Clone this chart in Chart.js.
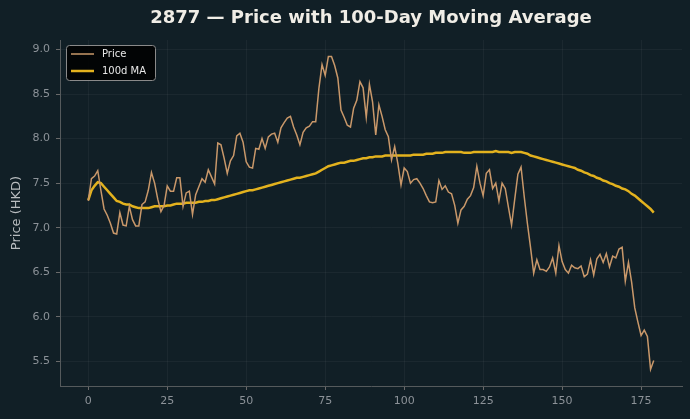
<!DOCTYPE html>
<html>
<head>
<meta charset="utf-8">
<style>
  html, body { margin: 0; padding: 0; background: #111f26; }
  canvas { display: block; }
</style>
</head>
<body>
<canvas id="maChart" width="690" height="419"></canvas>
<script src="https://cdn.jsdelivr.net/npm/chart.js@4.4.1/dist/chart.umd.min.js"></script>
<script>
// closing price, one value per trading day
const price = [
  7.30, 7.55, 7.58, 7.64, 7.42, 7.21, 7.14, 7.05, 6.94, 6.93,
  7.17, 7.03, 7.02, 7.24, 7.09, 7.02, 7.02, 7.26, 7.29, 7.42,
  7.62, 7.50, 7.32, 7.18, 7.25, 7.47, 7.41, 7.41, 7.56, 7.56,
  7.24, 7.39, 7.41, 7.15, 7.37, 7.46, 7.55, 7.51, 7.65, 7.57,
  7.49, 7.95, 7.93, 7.78, 7.61, 7.75, 7.81, 8.03, 8.06, 7.96,
  7.74, 7.68, 7.67, 7.89, 7.88, 8.00, 7.89, 8.02, 8.05, 8.06,
  7.96, 8.12, 8.18, 8.23, 8.25, 8.13, 8.04, 7.93, 8.07, 8.12,
  8.14, 8.19, 8.19, 8.56, 8.83, 8.71, 8.92, 8.92, 8.82, 8.68,
  8.32, 8.24, 8.15, 8.13, 8.34, 8.43, 8.64, 8.57, 8.24, 8.61,
  8.41, 8.04, 8.38, 8.25, 8.10, 8.02, 7.76, 7.91, 7.72, 7.48,
  7.67, 7.63, 7.50, 7.54, 7.55, 7.50, 7.44, 7.36, 7.29, 7.28,
  7.29, 7.53, 7.43, 7.47, 7.40, 7.38, 7.25, 7.05, 7.20, 7.24,
  7.32, 7.36, 7.45, 7.69, 7.50, 7.36, 7.61, 7.65, 7.44, 7.50,
  7.30, 7.50, 7.44, 7.23, 7.03, 7.32, 7.60, 7.68, 7.35, 7.05,
  6.78, 6.49, 6.64, 6.53, 6.53, 6.51, 6.56, 6.66, 6.49, 6.80,
  6.62, 6.53, 6.49, 6.58, 6.55, 6.54, 6.57, 6.45, 6.48, 6.64,
  6.47, 6.65, 6.70, 6.61, 6.71, 6.56, 6.68, 6.66, 6.76, 6.78,
  6.40, 6.61, 6.39, 6.10, 5.94, 5.79, 5.85, 5.78, 5.41, 5.51
];

// 100-day moving average
const ma100 = [
  7.31, 7.42, 7.47, 7.51, 7.50, 7.46, 7.42, 7.38, 7.34, 7.30,
  7.29, 7.27, 7.26, 7.26, 7.24, 7.23, 7.22, 7.22, 7.22, 7.22,
  7.23, 7.24, 7.24, 7.24, 7.24, 7.25, 7.25, 7.26, 7.27, 7.27,
  7.27, 7.28, 7.28, 7.28, 7.28, 7.29, 7.29, 7.30, 7.30, 7.31,
  7.31, 7.32, 7.33, 7.34, 7.35, 7.36, 7.37, 7.38, 7.39, 7.40,
  7.41, 7.42, 7.42, 7.43, 7.44, 7.45, 7.46, 7.47, 7.48, 7.49,
  7.50, 7.51, 7.52, 7.53, 7.54, 7.55, 7.56, 7.56, 7.57, 7.58,
  7.59, 7.60, 7.61, 7.63, 7.65, 7.67, 7.69, 7.70, 7.71, 7.72,
  7.73, 7.73, 7.74, 7.75, 7.75, 7.76, 7.77, 7.78, 7.78, 7.79,
  7.79, 7.80, 7.80, 7.80, 7.81, 7.81, 7.81, 7.81, 7.81, 7.81,
  7.81, 7.81, 7.81, 7.82, 7.82, 7.82, 7.82, 7.83, 7.83, 7.83,
  7.84, 7.84, 7.84, 7.85, 7.85, 7.85, 7.85, 7.85, 7.85, 7.84,
  7.84, 7.84, 7.85, 7.85, 7.85, 7.85, 7.85, 7.85, 7.85, 7.86,
  7.85, 7.85, 7.85, 7.85, 7.84, 7.85, 7.85, 7.85, 7.84, 7.83,
  7.81, 7.80, 7.79, 7.78, 7.77, 7.76, 7.75, 7.74, 7.73, 7.72,
  7.71, 7.70, 7.69, 7.68, 7.67, 7.65, 7.64, 7.62, 7.61, 7.59,
  7.58, 7.56, 7.55, 7.53, 7.52, 7.50, 7.49, 7.47, 7.46, 7.44,
  7.43, 7.41, 7.38, 7.36, 7.33, 7.30, 7.27, 7.24, 7.21, 7.17
];

const days = price.map((_, i) => i);
const xTicks = [0, 25, 50, 75, 100, 125, 150, 175];
const yTicks = [5.5, 6.0, 6.5, 7.0, 7.5, 8.0, 8.5, 9.0];
const chartTitle = '2877 \u2014 Price with 100-Day Moving Average';

const FONT = "'DejaVu Sans', sans-serif";
const tickGray = '#8c9298';

// title centred over the plot area, like matplotlib does
const axesTitle = {
  id: 'axesTitle',
  afterDraw(chart) {
    const ctx = chart.ctx;
    const a = chart.chartArea;
    ctx.save();
    ctx.font = 'bold 18px ' + FONT;
    ctx.fillStyle = '#f0ede6';
    ctx.textAlign = 'center';
    ctx.textBaseline = 'middle';
    ctx.fillText(chartTitle, (a.left + a.right) / 2, 18);
    ctx.restore();
  }
};

// matplotlib-style legend box in the upper left
const boxLegend = {
  id: 'boxLegend',
  afterDraw(chart) {
    const ctx = chart.ctx;
    const x = chart.chartArea.left + 6, y = chart.chartArea.top + 5;
    const w = 89, h = 35;
    ctx.save();
    ctx.fillStyle = 'rgba(0,0,0,0.85)';
    ctx.strokeStyle = '#8a8a8a';
    ctx.lineWidth = 1;
    ctx.beginPath();
    ctx.roundRect(x + 0.5, y + 0.5, w, h, 3);
    ctx.fill();
    ctx.stroke();
    ctx.font = '10px ' + FONT;
    ctx.textBaseline = 'middle';
    chart.data.datasets.forEach((ds, i) => {
      const ly = y + 9 + i * 17;
      ctx.strokeStyle = ds.borderColor;
      ctx.lineWidth = ds.borderWidth;
      ctx.beginPath();
      ctx.moveTo(x + 5, ly);
      ctx.lineTo(x + 28, ly);
      ctx.stroke();
      ctx.fillStyle = '#e8e8e8';
      ctx.fillText(ds.label, x + 36, ly);
    });
    ctx.restore();
  }
};

const ctx = document.getElementById('maChart').getContext('2d');
new Chart(ctx, {
  type: 'line',
  data: {
    datasets: [
      {
        label: 'Price',
        data: days.map((d, i) => ({ x: d, y: price[i] })),
        borderColor: '#c9986a',
        borderWidth: 1.5,
        pointRadius: 0,
        tension: 0
      },
      {
        label: '100d MA',
        data: days.map((d, i) => ({ x: d, y: ma100[i] })),
        borderColor: '#e3b21e',
        borderWidth: 2.5,
        pointRadius: 0,
        tension: 0
      }
    ]
  },
  options: {
    responsive: false,
    animation: false,
    layout: { padding: { top: 40, right: 8 } },
    plugins: {
      legend: { display: false },
      tooltip: { enabled: false },
      title: { display: false }
    },
    scales: {
      x: {
        type: 'linear',
        min: -8.95,
        max: 187.95,
        afterBuildTicks: s => { s.ticks = xTicks.map(v => ({ value: v })); },
        afterFit: s => { s.height = 33; },
        ticks: { color: tickGray, font: { family: FONT, size: 11 }, padding: 5, maxRotation: 0 },
        grid: { color: 'rgba(255,255,255,0.045)', tickColor: '#6a6a6a', tickLength: 4 },
        border: { color: '#555a5c' }
      },
      y: {
        min: 5.2235,
        max: 9.1065,
        afterBuildTicks: s => { s.ticks = yTicks.map(v => ({ value: v })); },
        afterFit: s => { s.width = 60; },
        ticks: {
          color: tickGray,
          font: { family: FONT, size: 11 },
          padding: 6,
          callback: v => v.toFixed(1)
        },
        grid: { color: 'rgba(255,255,255,0.045)', tickColor: '#6a6a6a', tickLength: 4 },
        border: { color: '#555a5c' },
        title: {
          display: true,
          text: 'Price (HKD)',
          color: '#b8bcbf',
          font: { family: FONT, size: 13 },
          padding: { top: 9, bottom: 4 }
        }
      }
    }
  },
  plugins: [axesTitle, boxLegend]
});
</script>
</body>
</html>
